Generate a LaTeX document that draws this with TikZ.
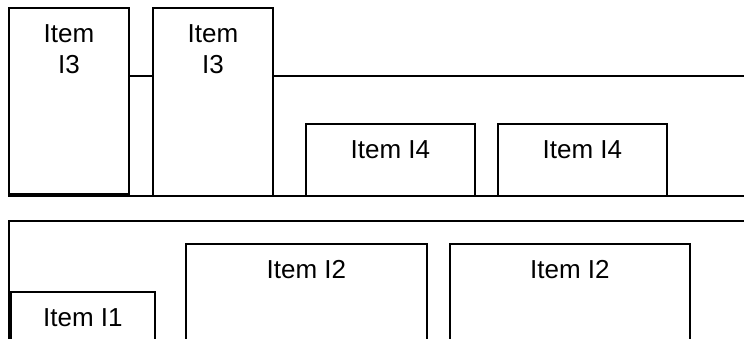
\documentclass[tikz,border=0pt]{standalone}
\usepackage{fontspec}
\setmainfont{Liberation Sans}
\begin{document}
\begin{tikzpicture}[x=1pt,y=-1pt,
  lane/.style={draw=black,line width=1.8pt,anchor=north west,inner sep=0pt},
  itembox/.style={draw=black,line width=1.8pt,fill=white,anchor=north west,inner sep=0pt},
  itemtext/.style={anchor=north,inner sep=0pt,align=center,font=\fontsize{26}{31}\selectfont}]
\useasboundingbox (0,0) rectangle (744,339);
\clip (0,0) rectangle (744,339);

% upper lane with its items
\node[lane,minimum width=750pt,minimum height=120pt] (upper) at (8,75) {};
\node[itembox,minimum width=120pt,minimum height=186pt] (a) at (8,7) {};
\node[itembox,minimum width=120pt,minimum height=188pt] (b) at (152,7) {};
\node[itembox,minimum width=169pt,minimum height=72pt] (c) at (305,123) {};
\node[itembox,minimum width=169pt,minimum height=72pt] (d) at (497,123) {};

\node[itemtext] (ta) at ([yshift=-17.5pt]a.north) {Item\\I3};
\node[itemtext] (tb) at ([yshift=-17.5pt]b.north) {Item\\I3};
\node[itemtext] (tc) at ([yshift=-17.5pt]c.north) {Item I4};
\node[itemtext] (td) at ([yshift=-17.5pt]d.north) {Item I4};

% lower lane with its items
\node[lane,minimum width=750pt,minimum height=119.6pt] (lower) at (8,220) {};
\node[itembox,minimum width=144pt,minimum height=60pt] (e) at (10,291) {};
\node[itembox,minimum width=241pt,minimum height=110pt] (f) at (185,243) {};
\node[itembox,minimum width=240pt,minimum height=110pt] (g) at (449,243) {};

\node[itemtext] (te) at ([yshift=-17.5pt]e.north) {Item I1};
\node[itemtext] (tf) at ([yshift=-17.5pt]f.north) {Item I2};
\node[itemtext] (tg) at ([yshift=-17.5pt]g.north) {Item I2};
\end{tikzpicture}
\end{document}
